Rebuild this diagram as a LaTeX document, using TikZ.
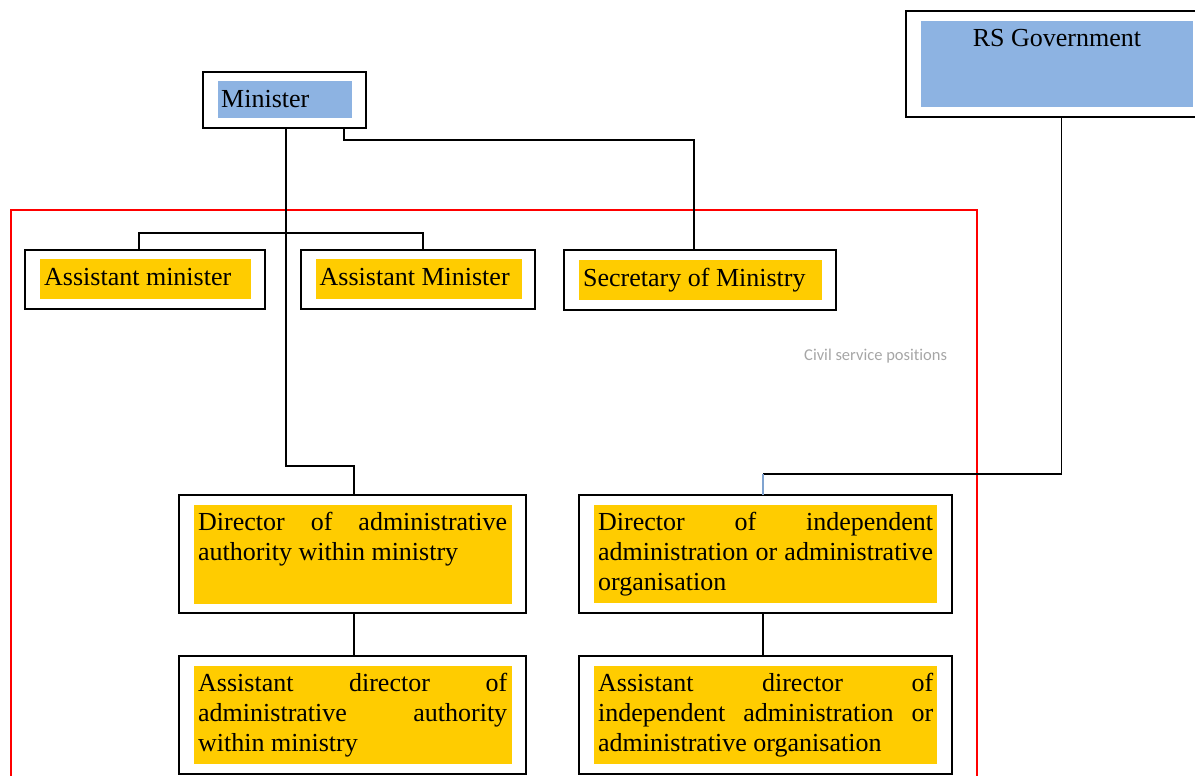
\documentclass[tikz,border=0pt]{standalone}
\usepackage{fontspec}
\setmainfont{Liberation Serif}
\newfontfamily\calibfont[Ligatures=NoCommon]{Carlito}
\usetikzlibrary{calc}
\definecolor{boxblue}{HTML}{8DB3E2}
\definecolor{boxyellow}{HTML}{FFCC00}
\definecolor{framered}{HTML}{FF0000}
\definecolor{notegray}{HTML}{A6A6A6}
\definecolor{linkblue}{HTML}{7FA3D0}
\newcommand{\fullline}[2]{\makebox[#1][s]{#2}}
\begin{document}
\begin{tikzpicture}[x=1pt,y=-1pt,
  outerbox/.style={draw=black,line width=1.6pt,inner sep=0,outer sep=0},
  conn/.style={draw=black,line width=1.4pt},
  lbl/.style={anchor=base west,inner sep=0,font=\fontsize{26}{30}\selectfont},
  note/.style={anchor=base west,inner sep=0,text=notegray,font=\calibfont\fontsize{16.5}{19}\selectfont}]
\useasboundingbox (0,0) rectangle (1195,776);

% red frame
\draw[framered,line width=1.8pt] (11,790) -- (11,210) -- (977,210) -- (977,790);

% fills
\fill[boxblue] (218,81) rectangle (352,118);
\fill[boxblue] (921,21) rectangle (1193,107);
\fill[boxyellow] (40,259) rectangle (251,299);
\fill[boxyellow] (316,259) rectangle (522,299);
\fill[boxyellow] (579,260) rectangle (822,300);
\fill[boxyellow] (194,505) rectangle (512,604);
\fill[boxyellow] (594,505) rectangle (937,603);
\fill[boxyellow] (194,666) rectangle (512,764);
\fill[boxyellow] (594,666) rectangle (937,764);

% outer boxes
\node[outerbox,minimum width=163,minimum height=56] (min) at (284.5,100) {};
\node[outerbox,minimum width=294,minimum height=106] (rsg) at (1053,64) {};
\node[outerbox,minimum width=240,minimum height=59] (am1) at (145,279.5) {};
\node[outerbox,minimum width=234,minimum height=59] (am2) at (418,279.5) {};
\node[outerbox,minimum width=272,minimum height=60] (sec) at (700,280) {};
\node[outerbox,minimum width=347,minimum height=118] (dadm) at (352.5,554) {};
\node[outerbox,minimum width=373,minimum height=118] (dind) at (765.5,554) {};
\node[outerbox,minimum width=347,minimum height=118] (adadm) at (352.5,715) {};
\node[outerbox,minimum width=373,minimum height=118] (adind) at (765.5,715) {};

% texts
\node[lbl] (tmin) at (221,107) {Minister};
\node[lbl,anchor=base] (trsg) at (1057,47) {RS Government};
\node[lbl] (tam1) at (44,285) {Assistant minister};
\node[lbl] (tam2) at (319.5,285) {Assistant Minister};
\node[lbl] (tsec) at (583,286) {Secretary of Ministry};
\node[note] (tcivil) at (804,360) {Civil service positions};
\node[lbl] (tdadm) at (198,530) {\parbox[t]{309pt}{\fullline{309pt}{Director of administrative}\\authority within ministry}};
\node[lbl] (tdind) at (598,530) {\parbox[t]{335pt}{\fullline{335pt}{Director of independent}\\\fullline{335pt}{administration or administrative}\\organisation}};
\node[lbl] (tadadm) at (198,691) {\parbox[t]{309pt}{\fullline{309pt}{Assistant director of}\\\fullline{309pt}{administrative authority}\\within ministry}};
\node[lbl] (tadind) at (598,691) {\parbox[t]{335pt}{\fullline{335pt}{Assistant director of}\\\fullline{335pt}{independent administration or}\\administrative organisation}};

% connectors
\draw[conn] ($(min.south)+(59.5,0)$) -- ++(0,12) -| ($(sec.north)+(-6,0)$);
\draw[conn] ($(min.south)+(1.5,0)$) -- ++(0,338) -| ($(dadm.north)+(1.5,0)$);
\draw[conn] ($(am1.north)+(-6,0)$) -- ++(0,-17) -| ($(am2.north)+(5,0)$);
\coordinate (gc) at ($(dind.north)+(-2.5,-21)$);
\draw[conn] ($(rsg.south)+(8.5,0)$) |- (gc);
\draw[conn,draw=linkblue] (gc) -- ($(dind.north)+(-2.5,0)$);
\draw[conn] ($(dadm.south)+(1.5,0)$) -- ($(adadm.north)+(1.5,0)$);
\draw[conn] ($(dind.south)+(-2.5,0)$) -- ($(adind.north)+(-2.5,0)$);
\end{tikzpicture}
\end{document}
